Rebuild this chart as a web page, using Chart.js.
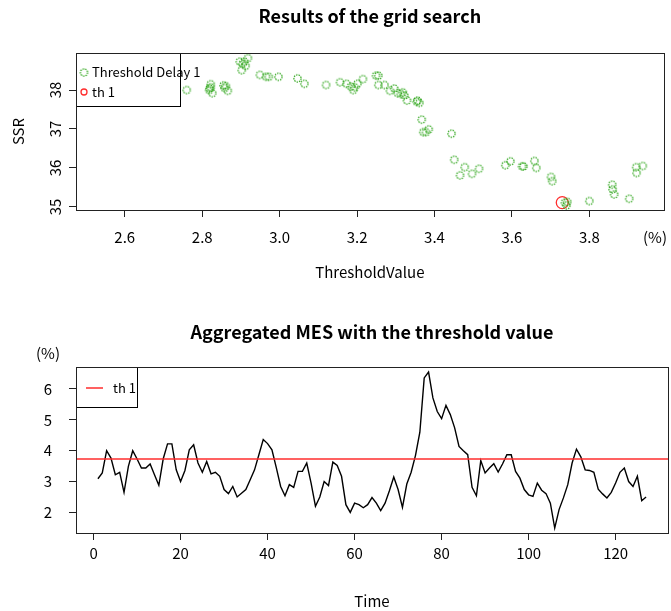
<!DOCTYPE html>
<html>
<head>
<meta charset="utf-8">
<script src="https://cdn.jsdelivr.net/npm/chart.js@4.4.1/dist/chart.umd.min.js"></script>
<style>
  html, body { margin: 0; padding: 0; background: #fff; }
  .wrap { position: absolute; left: 0; width: 671px; }
  #top { top: 0; height: 300px; }
  #bottom { top: 300px; height: 311px; }
</style>
</head>
<body>
<div class="wrap" id="top"><canvas id="searchChart"></canvas></div>
<div class="wrap" id="bottom"><canvas id="mesChart"></canvas></div>
<script>
// grid search: candidate threshold (%) and the SSR it gives
const thresholdValues = [
  2.760, 2.818, 2.822, 2.822, 2.826, 2.819, 2.855, 2.858, 2.866, 2.861,
  2.897, 2.904, 2.902, 2.912, 2.918, 2.909, 2.949, 2.965, 2.972, 2.997,
  3.046, 3.064, 3.120, 3.156, 3.173, 3.184, 3.190, 3.194, 3.201, 3.215,
  3.249, 3.255, 3.255, 3.271, 3.285, 3.296, 3.305, 3.313, 3.322, 3.329,
  3.318, 3.356, 3.361, 3.354, 3.367, 3.371, 3.378, 3.385, 3.444, 3.451,
  3.466, 3.478, 3.497, 3.515, 3.583, 3.596, 3.626, 3.630, 3.658, 3.663,
  3.701, 3.704, 3.737, 3.743, 3.741, 3.800, 3.859, 3.860, 3.864, 3.903,
  3.921, 3.922, 3.938
];
const ssrValues = [
  38.00, 38.00, 38.15, 38.07, 37.92, 38.04, 38.12, 38.05, 37.98, 38.10,
  38.73, 38.67, 38.51, 38.62, 38.82, 38.73, 38.39, 38.34, 38.34, 38.34,
  38.30, 38.16, 38.13, 38.20, 38.16, 38.09, 38.00, 38.07, 38.16, 38.28,
  38.37, 38.37, 38.13, 38.13, 37.98, 38.04, 37.92, 37.90, 37.86, 37.73,
  37.94, 37.73, 37.67, 37.70, 37.24, 36.92, 36.92, 36.99, 36.88, 36.21,
  35.81, 36.02, 35.85, 35.98, 36.07, 36.17, 36.04, 36.04, 36.18, 36.00,
  35.77, 35.66, 35.11, 35.13, 35.04, 35.15, 35.57, 35.45, 35.32, 35.21,
  36.02, 35.87, 36.05
];
const bestThreshold = 3.73;
const bestSsr = 35.11;

// aggregated MES (%), one value per period
const mesValues = [
  3.09, 3.28, 4.00, 3.76, 3.22, 3.30, 2.65, 3.49, 4.00, 3.73,
  3.44, 3.44, 3.57, 3.22, 2.88, 3.73, 4.22, 4.22, 3.38, 3.00,
  3.36, 4.03, 4.19, 3.60, 3.30, 3.65, 3.25, 3.30, 3.17, 2.74,
  2.61, 2.84, 2.50, 2.62, 2.74, 3.06, 3.38, 3.87, 4.36, 4.23,
  4.03, 3.45, 2.84, 2.54, 2.90, 2.81, 3.33, 3.33, 3.60, 2.95,
  2.20, 2.50, 3.00, 2.87, 3.63, 3.52, 3.17, 2.25, 2.00, 2.30,
  2.25, 2.15, 2.25, 2.48, 2.30, 2.06, 2.30, 2.70, 3.15, 2.74,
  2.16, 2.92, 3.30, 3.85, 4.60, 6.36, 6.55, 5.71, 5.27, 5.04,
  5.47, 5.17, 4.74, 4.14, 4.00, 3.87, 2.81, 2.54, 3.68, 3.28,
  3.44, 3.58, 3.31, 3.57, 3.87, 3.87, 3.33, 3.11, 2.74, 2.57,
  2.52, 2.95, 2.72, 2.61, 2.30, 1.49, 2.09, 2.47, 2.90, 3.60,
  4.05, 3.80, 3.38, 3.36, 3.30, 2.75, 2.60, 2.47, 2.65, 2.95,
  3.30, 3.44, 3.00, 2.84, 3.17, 2.38, 2.50
];
const timeIndex = mesValues.map((v, i) => i + 1);

const FONT = '"Noto Sans CJK KR", "Noto Sans", sans-serif';
Chart.defaults.font.family = FONT;
Chart.defaults.font.size = 15;
Chart.defaults.color = '#000';

const GREEN = 'rgb(45,165,25)';
const RED = 'rgb(255,45,45)';
const AXIS = '#222';

// small dotted ring used as the point marker
function dottedRing(r, color) {
  const c = document.createElement('canvas');
  const s = Math.ceil(r * 2 + 3);
  c.width = s;
  c.height = s;
  const g = c.getContext('2d');
  g.strokeStyle = color;
  g.lineWidth = 1.2;
  g.setLineDash([1.5, 1.0]);
  g.beginPath();
  g.arc(s / 2, s / 2, r, 0, Math.PI * 2);
  g.stroke();
  return c;
}
const greenRing = dottedRing(3.6, GREEN);

// box round the plot, main title and the "(%)" unit note
const framePlugin = {
  id: 'frame',
  afterDraw(chart, args, opts) {
    const { ctx, chartArea: a } = chart;
    ctx.save();
    ctx.strokeStyle = AXIS;
    ctx.lineWidth = 1;
    ctx.strokeRect(Math.round(a.left) + 0.5, Math.round(a.top) + 0.5,
      Math.round(a.right - a.left), Math.round(a.bottom - a.top));
    ctx.fillStyle = '#000';
    ctx.textAlign = 'center';
    ctx.textBaseline = 'middle';
    ctx.font = '600 18px ' + FONT;
    ctx.fillText(opts.title, (a.left + a.right) / 2, opts.titleY);
    ctx.font = '15px ' + FONT;
    ctx.fillText('(%)', opts.unitX, opts.unitY);
    ctx.restore();
  }
};

// horizontal line at the chosen threshold
const thresholdPlugin = {
  id: 'thresholdLine',
  afterDatasetsDraw(chart, args, opts) {
    if (!opts.show) return;
    const { ctx, chartArea: a, scales } = chart;
    const y = scales.y.getPixelForValue(opts.value);
    ctx.save();
    ctx.strokeStyle = RED;
    ctx.lineWidth = 1.5;
    ctx.beginPath();
    ctx.moveTo(a.left, y);
    ctx.lineTo(a.right, y);
    ctx.stroke();
    ctx.restore();
  }
};

// boxed legend in the upper-left corner of the plot
const boxLegendPlugin = {
  id: 'boxLegend',
  afterDatasetsDraw(chart, args, opts) {
    if (!opts.items) return;
    const { ctx, chartArea: a } = chart;
    const x0 = Math.round(a.left) + 0.5;
    const y0 = Math.round(a.top) + 0.5;
    ctx.save();
    ctx.fillStyle = '#fff';
    ctx.fillRect(x0, y0, opts.width, opts.height);
    ctx.strokeStyle = '#000';
    ctx.lineWidth = 1;
    ctx.strokeRect(x0, y0, opts.width, opts.height);
    ctx.font = '13px ' + FONT;
    ctx.textAlign = 'left';
    ctx.textBaseline = 'middle';
    opts.items.forEach((it, i) => {
      const y = a.top + opts.firstY + i * opts.rowGap;
      if (it.kind === 'ring') {
        ctx.drawImage(greenRing, a.left + 8 - greenRing.width / 2, y - greenRing.height / 2);
      } else if (it.kind === 'circle') {
        ctx.strokeStyle = it.color;
        ctx.lineWidth = 1.3;
        ctx.beginPath();
        ctx.arc(a.left + 8, y, 3, 0, Math.PI * 2);
        ctx.stroke();
      } else {
        ctx.strokeStyle = it.color;
        ctx.lineWidth = 1.5;
        ctx.beginPath();
        ctx.moveTo(a.left + 10, y);
        ctx.lineTo(a.left + 27, y);
        ctx.stroke();
      }
      ctx.fillStyle = '#000';
      ctx.fillText(it.label, a.left + opts.textX, y);
    });
    ctx.restore();
  }
};

Chart.register(framePlugin, thresholdPlugin, boxLegendPlugin);

const tickGrid = { drawOnChartArea: false, tickLength: 7, color: AXIS };

new Chart(document.getElementById('searchChart'), {
  type: 'scatter',
  data: {
    datasets: [
      {
        label: 'Threshold Delay 1',
        data: thresholdValues.map((x, i) => ({ x: x, y: ssrValues[i] })),
        pointStyle: greenRing,
        pointRadius: 4,
        borderColor: GREEN,
        backgroundColor: 'transparent'
      },
      {
        label: 'th 1',
        data: [{ x: bestThreshold, y: bestSsr }],
        pointStyle: 'circle',
        pointRadius: 6,
        borderWidth: 1.3,
        borderColor: RED,
        backgroundColor: 'transparent'
      }
    ]
  },
  options: {
    responsive: true,
    maintainAspectRatio: false,
    animation: false,
    layout: { padding: { top: 53, right: 3, left: 0, bottom: 0 } },
    plugins: {
      legend: { display: false },
      tooltip: { enabled: false },
      frame: { title: 'Results of the grid search', titleY: 16, unitX: 655, unitY: 237 },
      thresholdLine: { show: false },
      boxLegend: {
        width: 104, height: 53, firstY: 19.5, rowGap: 19.5, textX: 16,
        items: [
          { label: 'Threshold Delay 1', kind: 'ring' },
          { label: 'th 1', kind: 'circle', color: RED }
        ]
      }
    },
    scales: {
      x: {
        type: 'linear',
        min: 2.474,
        max: 3.992,
        ticks: { stepSize: 0.2, includeBounds: false, padding: 11, callback: (v) => v.toFixed(1) },
        grid: tickGrid,
        border: { color: AXIS },
        title: { display: true, text: 'ThresholdValue', padding: { top: 0, bottom: 19 } },
        afterFit(scale) { scale.height = 90; }
      },
      y: {
        min: 34.92,
        max: 38.95,
        ticks: { stepSize: 1, includeBounds: false, minRotation: 90, maxRotation: 90, crossAlign: 'center', padding: 5 },
        grid: tickGrid,
        border: { color: AXIS },
        title: { display: true, text: 'SSR', padding: { top: 9, bottom: 0 } },
        afterFit(scale) { scale.width = 76; }
      }
    }
  }
});

new Chart(document.getElementById('mesChart'), {
  type: 'line',
  data: {
    datasets: [
      {
        label: 'Aggregated MES',
        data: timeIndex.map((t, i) => ({ x: t, y: mesValues[i] })),
        borderColor: '#000',
        borderWidth: 1.4,
        pointRadius: 0,
        tension: 0,
        fill: false
      }
    ]
  },
  options: {
    responsive: true,
    maintainAspectRatio: false,
    animation: false,
    layout: { padding: { top: 67, right: 3, left: 0, bottom: 0 } },
    plugins: {
      legend: { display: false },
      tooltip: { enabled: false },
      frame: { title: 'Aggregated MES with the threshold value', titleY: 32, unitX: 48, unitY: 53 },
      thresholdLine: { show: true, value: bestThreshold },
      boxLegend: {
        width: 61, height: 40, firstY: 21, rowGap: 0, textX: 37,
        items: [{ label: 'th 1', kind: 'line', color: RED }]
      }
    },
    scales: {
      x: {
        type: 'linear',
        min: -4.04,
        max: 132.04,
        ticks: { stepSize: 20, includeBounds: false, padding: 4 },
        grid: tickGrid,
        border: { color: AXIS },
        title: { display: true, text: 'Time', padding: { top: 0, bottom: 1 } },
        afterFit(scale) { scale.height = 78; }
      },
      y: {
        min: 1.332,
        max: 6.713,
        ticks: { stepSize: 1, includeBounds: false, padding: 17 },
        grid: tickGrid,
        border: { color: AXIS },
        afterFit(scale) { scale.width = 76; }
      }
    }
  }
});
</script>
</body>
</html>
